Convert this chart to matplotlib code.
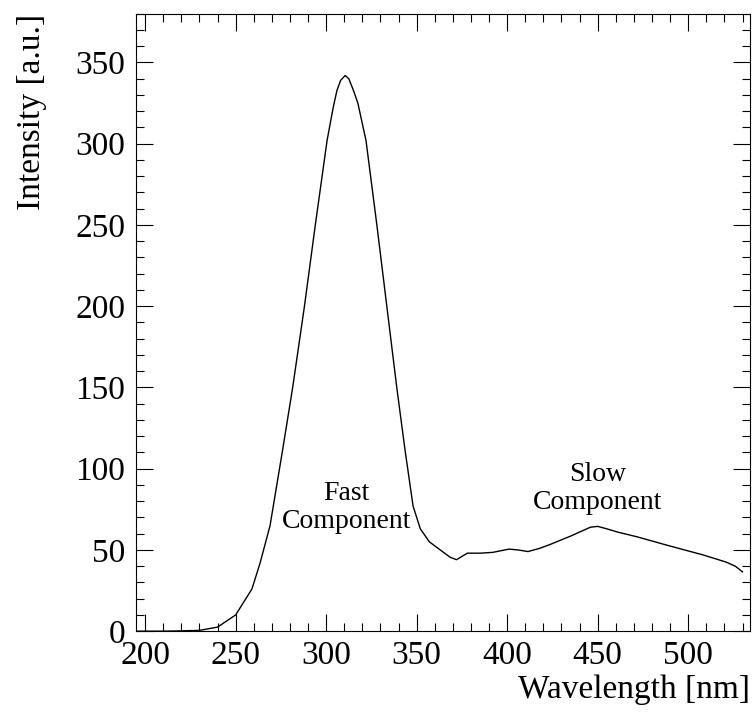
import matplotlib.pyplot as plt
from matplotlib.ticker import MultipleLocator

plt.rcParams['font.family'] = ['Liberation Serif', 'DejaVu Serif']

# emission spectrum
wavelength = [195, 210, 220, 230, 240, 250, 259, 263.5, 269, 276, 281.5, 288,
              294, 300.5, 304, 306, 308, 310.5, 312.5, 315, 317.5, 322, 328,
              333.5, 339, 343.5, 348, 352, 357, 363, 368.5, 372, 378, 385,
              392, 401, 406, 411.5, 418, 424, 435, 446, 450, 455, 461, 472,
              488, 508, 521, 526, 530]
intensity = [0, 0, 0.2, 0.5, 2.5, 10, 26, 42, 65, 112, 150, 200,
             250, 302, 323, 333, 339, 342, 340, 333, 325, 302, 250,
             200, 150, 112, 77, 63, 55, 50, 45.5, 44, 48, 48,
             48.5, 50.5, 50, 49, 51, 53.5, 58.5, 64, 64.5, 63, 61, 58,
             53, 47, 42.5, 40, 36.5]

fig = plt.figure(figsize=(7.52, 7.23), dpi=100)
ax = fig.add_axes([0.181, 0.127, 0.816, 0.854])
ax.plot(wavelength, intensity, color='black', lw=1.0)

ax.set_xlim(195, 534)
ax.set_ylim(0, 380)
ax.xaxis.set_major_locator(MultipleLocator(50))
ax.xaxis.set_minor_locator(MultipleLocator(10))
ax.yaxis.set_major_locator(MultipleLocator(50))
ax.yaxis.set_minor_locator(MultipleLocator(10))
ax.tick_params(which='both', direction='in', top=True, right=True, labelsize=24)
ax.tick_params(which='major', length=12, width=0.8)
ax.tick_params(which='minor', length=6, width=0.8)
ax.tick_params(axis='x', pad=7)
ax.tick_params(axis='y', pad=8)

ax.set_xlabel("Wavelength [nm]", fontsize=24)
ax.set_ylabel("Intensity [a.u.]", fontsize=24)
ax.xaxis.set_label_coords(1.0, -0.07)
ax.xaxis.label.set_horizontalalignment('right')
ax.yaxis.set_label_coords(-0.145, 1.0)
ax.yaxis.label.set_horizontalalignment('right')

ax.text(311, 76, "Fast\nComponent", ha='center', va='center', fontsize=20,
        linespacing=1.15)
ax.text(450, 88, "Slow\nComponent", ha='center', va='center', fontsize=20,
        linespacing=1.15)

fig.savefig("out.png", dpi=100)
